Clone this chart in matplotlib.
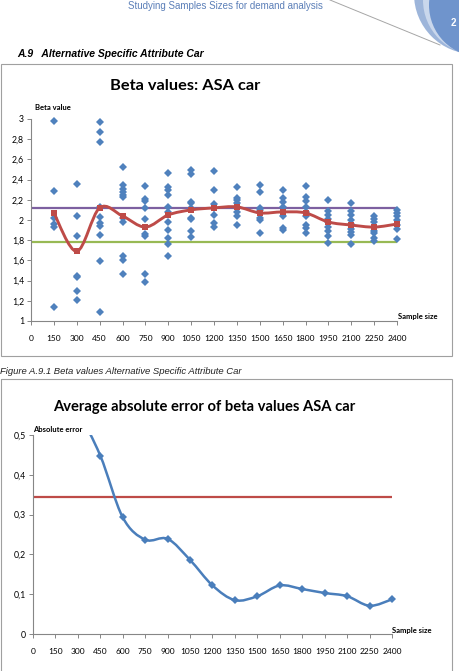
import matplotlib
matplotlib.use("Agg")
import matplotlib.pyplot as plt
import matplotlib.patches as mpatches
from matplotlib.path import Path

# Tamaños de muestra
tamanos = [150, 300, 450, 600, 750, 900, 1050, 1200, 1350, 1500, 1650, 1800, 1950, 2100, 2250, 2400]

# Valores beta estimados por tamaño de muestra (uno por corrida)
betas = [
    [2.98, 2.29, 2.02, 1.96, 1.93, 1.14],
    [2.36, 2.04, 1.84, 1.45, 1.44, 1.30, 1.21],
    [2.97, 2.87, 2.77, 2.13, 2.03, 1.97, 1.94, 1.85, 1.59, 1.09],
    [2.52, 2.35, 2.31, 2.28, 2.25, 2.23, 2.02, 1.98, 1.64, 1.60, 1.47],
    [2.34, 2.21, 2.19, 2.12, 2.01, 1.86, 1.84, 1.47, 1.39],
    [2.47, 2.33, 2.30, 2.25, 2.13, 2.08, 1.98, 1.90, 1.82, 1.76, 1.64],
    [2.50, 2.46, 2.18, 2.17, 2.12, 2.02, 2.01, 1.89, 1.83],
    [2.49, 2.30, 2.16, 2.12, 2.05, 1.97, 1.93],
    [2.33, 2.22, 2.20, 2.17, 2.13, 2.08, 2.04, 1.95],
    [2.35, 2.28, 2.12, 2.10, 2.02, 2.00, 1.87],
    [2.30, 2.22, 2.18, 2.13, 2.08, 2.04, 1.92, 1.90],
    [2.34, 2.23, 2.19, 2.13, 2.08, 2.04, 1.95, 1.92, 1.87],
    [2.20, 2.09, 2.05, 2.01, 1.98, 1.93, 1.89, 1.84, 1.77],
    [2.17, 2.09, 2.05, 2.00, 1.96, 1.91, 1.88, 1.85, 1.76],
    [2.04, 2.01, 1.98, 1.93, 1.89, 1.87, 1.82, 1.79],
    [2.10, 2.07, 2.04, 2.00, 1.95, 1.91, 1.81],
]

# Promedio de beta por tamaño de muestra (linea roja)
beta_promedio = [2.07, 1.69, 2.12, 2.04, 1.93, 2.05, 2.10, 2.12, 2.13, 2.07, 2.08, 2.07, 1.98, 1.95, 1.93, 1.96]
beta_real = 2.12
beta_limite = 1.78

# Error absoluto promedio
error_abs = [0.65, 0.56, 0.448, 0.293, 0.237, 0.239, 0.186, 0.122, 0.085, 0.095, 0.122, 0.113, 0.103, 0.095, 0.071, 0.087]
error_limite = 0.344

ticks_x = list(range(0, 2401, 150))

W, H = 459, 671
FUENTE = 'Lato'
GRIS = '#868686'
AZUL = '#4F81BD'
ROJO = '#BE4B48'
MORADO = '#7D60A0'
VERDE = '#98B954'


def ax_px(fig, izq, arr, der, aba):
    # ejes ubicados en pixeles de la imagen
    return fig.add_axes([izq / W, 1 - aba / H, (der - izq) / W, (aba - arr) / H])


def curva_suave(xs, ys, t=1/6):
    """Path de Bezier que pasa por los puntos (similar a 'linea suavizada' de Excel)."""
    n = len(xs)
    verts = [(xs[0], ys[0])]
    codes = [Path.MOVETO]
    for i in range(n - 1):
        a = i - 1 if i > 0 else i
        d = i + 2 if i + 2 < n else i + 1
        c1 = (xs[i] + (xs[i + 1] - xs[a]) * t, ys[i] + (ys[i + 1] - ys[a]) * t)
        c2 = (xs[i + 1] - (xs[d] - xs[i]) * t, ys[i + 1] - (ys[d] - ys[i]) * t)
        verts += [c1, c2, (xs[i + 1], ys[i + 1])]
        codes += [Path.CURVE4] * 3
    return Path(verts, codes)


def estilo_ejes(ax, yticks, ylabels):
    for lado in ['top', 'right']:
        ax.spines[lado].set_visible(False)
    for lado in ['left', 'bottom']:
        ax.spines[lado].set_color(GRIS)
        ax.spines[lado].set_linewidth(0.8)
    ax.set_xlim(0, 2400)
    ax.set_xticks(ticks_x)
    ax.set_xticklabels([str(v) for v in ticks_x], fontsize=6, family=FUENTE)
    ax.set_yticks(yticks)
    ax.set_yticklabels(ylabels, fontsize=6.3, family=FUENTE)
    ax.tick_params(axis='both', length=3, width=0.7, color=GRIS, pad=2)
    ax.tick_params(axis='x', pad=7)
    ax.set_facecolor('none')


fig = plt.figure(figsize=(W / 100, H / 100), dpi=100)

# Fondo de pagina: encabezado, circulos, cajas de los graficos
bg = fig.add_axes([0, 0, 1, 1], zorder=-1)
bg.set_xlim(0, W)
bg.set_ylim(H, 0)
bg.axis('off')
bg.plot([330, 440], [0, 45], color='#A6A6A6', lw=0.7)
bg.add_patch(mpatches.Circle((474, -6), 60, color='#9DB5DA', lw=0))
bg.add_patch(mpatches.Circle((478, 0), 55, color='#C9D7EC', lw=0))
bg.add_patch(mpatches.Circle((481, 5), 52, color='#6F94CC', lw=0))
bg.text(451, 23, '2', color='white', fontsize=7, ha='left', va='center',
        family='Liberation Sans', fontweight='bold')
bg.text(225, 6, 'Studying Samples Sizes for demand analysis', color='#5B7FB8',
        fontsize=7, ha='center', va='center', family='Liberation Sans')
bg.text(17, 54, 'A.9   Alternative Specific Attribute Car', fontsize=7.5,
        fontweight='bold', fontstyle='italic', family='Liberation Sans', va='center')
bg.text(0, 372, 'Figure A.9.1 Beta values Alternative Specific Attribute Car', fontsize=6.8,
        fontstyle='italic', family='Liberation Sans', va='center', color='#222222')
bg.add_patch(mpatches.Rectangle((1, 64), 451, 292, fill=False, ec='#A0A0A0', lw=0.8))
bg.add_patch(mpatches.Rectangle((1, 379), 451, 300, fill=False, ec='#A0A0A0', lw=0.8))
bg.text(185, 86, 'Beta values: ASA car', fontsize=11.8, fontweight='bold',
        family=FUENTE, ha='center', va='center')
bg.text(204, 407, 'Average absolute error of beta values ASA car', fontsize=10.6,
        fontweight='bold', family=FUENTE, ha='center', va='center')
bg.text(35, 108, 'Beta value', fontsize=5.5, fontweight='bold', family=FUENTE, va='center')
bg.text(398, 316, 'Sample size', fontsize=5.5, fontweight='bold', family=FUENTE, va='center')
bg.text(33, 429, 'Absolute error', fontsize=5.5, fontweight='bold', family=FUENTE, va='center')
bg.text(392, 631, 'Sample size', fontsize=5.5, fontweight='bold', family=FUENTE, va='center')

# Grafico 1: valores beta
ax1 = ax_px(fig, 31, 119, 397, 321)
y1 = [1, 1.2, 1.4, 1.6, 1.8, 2, 2.2, 2.4, 2.6, 2.8, 3]
estilo_ejes(ax1, y1, [f'{v:g}'.replace('.', ',') for v in y1])
ax1.set_ylim(1, 3)
ax1.plot([0, 2400], [beta_real, beta_real], color=MORADO, lw=1.6, zorder=2)
ax1.plot([0, 2400], [beta_limite, beta_limite], color=VERDE, lw=1.6, zorder=2)
for n, vals in zip(tamanos, betas):
    ax1.plot([n] * len(vals), vals, 'D', color=AZUL, ms=4.2, mew=0, zorder=3, clip_on=False)
ax1.add_patch(mpatches.PathPatch(curva_suave(tamanos, beta_promedio), fill=False,
                                 ec=ROJO, lw=2.1, zorder=4))
ax1.plot(tamanos, beta_promedio, 's', color=ROJO, ms=5, mew=0, zorder=5, clip_on=False)

# Grafico 2: error absoluto promedio
ax2 = ax_px(fig, 33, 435, 392, 634)
y2 = [0, 0.1, 0.2, 0.3, 0.4, 0.5]
estilo_ejes(ax2, y2, [f'{v:g}'.replace('.', ',') for v in y2])
ax2.set_ylim(0, 0.5)
ax2.plot([0, 2400], [error_limite, error_limite], color=ROJO, lw=1.6, zorder=2)
ax2.add_patch(mpatches.PathPatch(curva_suave(tamanos, error_abs), fill=False,
                                 ec='#4A7EBB', lw=1.8, zorder=3))
# solo los marcadores que caen dentro del rango visible
vis = [(n, e) for n, e in zip(tamanos, error_abs) if e <= 0.5]
ax2.plot([p[0] for p in vis], [p[1] for p in vis], 'D', color='#4A7EBB', ms=4, mew=0,
         zorder=4, clip_on=False)

fig.savefig('out.png', dpi=100)
